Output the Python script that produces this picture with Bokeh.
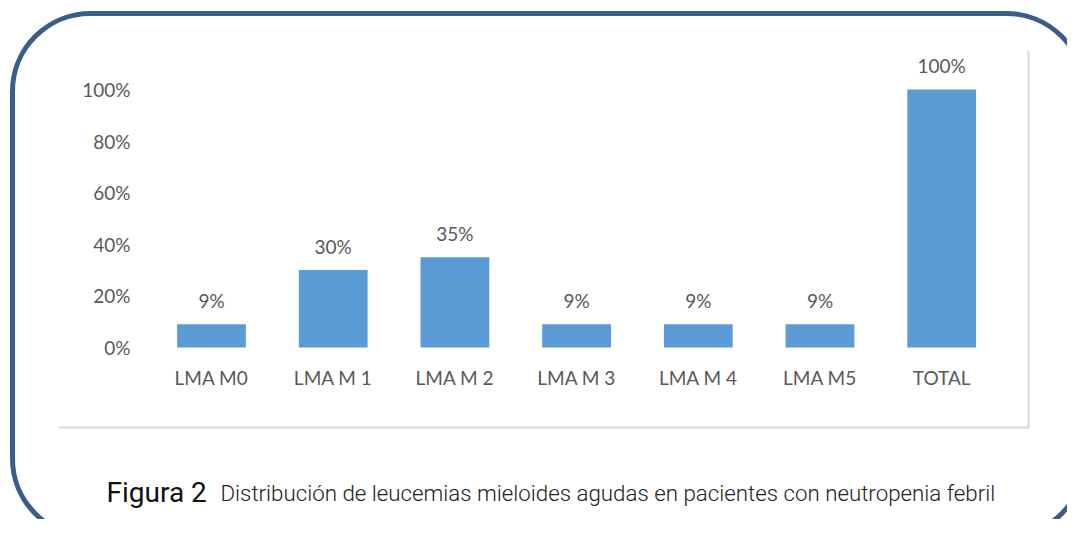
from bokeh.plotting import figure
from bokeh.models import BoxAnnotation, Label, ColumnDataSource, Range1d
from bokeh.core.properties import value
from bokeh.embed import file_html
from bokeh.resources import INLINE

# ---- data ----
categories = ["LMA M0", "LMA M 1", "LMA M 2", "LMA M 3", "LMA M 4", "LMA M5", "TOTAL"]
percentages = [0.09, 0.30, 0.35, 0.09, 0.09, 0.09, 1.00]
bar_labels = ["9%", "30%", "35%", "9%", "9%", "9%", "100%"]
y_ticks = [0, 0.2, 0.4, 0.6, 0.8, 1.0]
y_tick_labels = ["0%", "20%", "40%", "60%", "80%", "100%"]
caption_head = "Figura 2"
caption_body = "Distribución de leucemias mieloides agudas en pacientes con neutropenia febril"

# ---- layout (canvas pixels) ----
W, H = 1067, 519
X0_PX, STEP_PX = 211.0, 121.7      # pixel centre of first category, category step
Y0_PX, UNIT_PX = 347.0, 258.0      # pixel of 0 %, pixels per 100 %

def dx(px):
    return (px - X0_PX) / STEP_PX

def dy(py):
    return (Y0_PX - py) / UNIT_PX

TEXT_GRAY = "#595959"
BAR_BLUE = "#5b9bd5"
FONT = value("Lato")

p = figure(width=W, height=H, x_range=Range1d(dx(0), dx(W)), y_range=Range1d(dy(H), dy(0)),
           output_backend="svg", toolbar_location=None, min_border=0,
           x_axis_type=None, y_axis_type=None)
p.outline_line_color = None
p.grid.visible = False
p.background_fill_color = "white"
p.border_fill_color = "white"

xs = list(range(len(categories)))
src = ColumnDataSource(dict(x=xs, cat=categories, val=percentages, lab=bar_labels,
                            base=[0] * len(categories)))

# bars and value labels
p.vbar(x="x", top="val", bottom=0, width=0.565, source=src, fill_color=BAR_BLUE, line_color=None)
p.text(x="x", y="val", text="lab", source=src, text_align="center", text_baseline="middle",
       y_offset=-24, text_font=FONT, text_font_size="19px", text_color=TEXT_GRAY)

# category labels (x axis)
p.text(x="x", y="base", text="cat", source=src, text_align="center",
       text_baseline="middle", y_offset=30, text_font=FONT, text_font_size="19px",
       text_color=TEXT_GRAY)

# y tick labels
ysrc = ColumnDataSource(dict(y=y_ticks, lab=y_tick_labels))
p.text(x=dx(130), y="y", text="lab", source=ysrc, text_align="right", text_baseline="middle",
       text_font=FONT, text_font_size="19px", text_color=TEXT_GRAY)

# chart frame (light gray right & bottom edges)
p.segment(x0=[dx(1028), dx(58)], y0=[dy(50), dy(427)], x1=[dx(1028), dx(1029)], y1=[dy(428), dy(427)],
          line_color="#d9d9d9", line_width=2)

# rounded blue border
p.add_layout(BoxAnnotation(left=dx(12), right=dx(1084), top=dy(13), bottom=dy(536),
                           fill_alpha=0, line_color="#3a5e8c", line_alpha=1.0, line_width=5,
                           border_radius=78, level="overlay"))

# caption
p.add_layout(Label(x=dx(106), y=dy(492), text=caption_head, text_font="Roboto",
                   text_font_size="28px", text_color="#111111", text_baseline="alphabetic"))
p.add_layout(Label(x=dx(220), y=dy(492), text=caption_body, text_font="Roboto Light",
                   text_font_size="22.3px", text_color="#222222", text_baseline="alphabetic"))

open("out.html", "w").write(file_html(p, INLINE))
